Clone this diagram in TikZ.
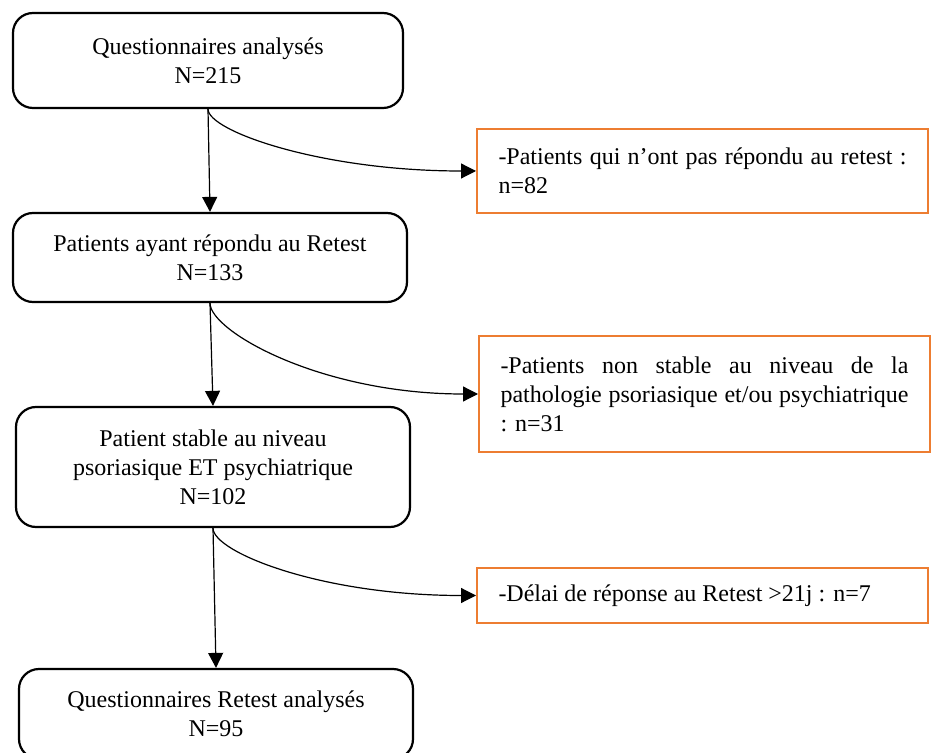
\documentclass[tikz,border=0pt]{standalone}
\usepackage{fontspec}
\setmainfont{Liberation Serif}
\usetikzlibrary{arrows.meta}
\definecolor{orangebord}{HTML}{ED7D31}

\begin{document}
\begin{tikzpicture}[x=0.5pt, y=-0.5pt,
    etape/.style={draw, line width=1.1pt, rounded corners=10pt, align=center,
      font=\fontsize{12}{14.5}\selectfont},
    exclu/.style={draw=orangebord, line width=1pt, align=justify, text width=204pt,
      inner xsep=10.75pt, font=\fontsize{12}{14.5}\selectfont},
    fleche/.style={line width=0.6pt, -{Triangle[length=7.5pt,width=7.5pt]}}]
			%%%%% START %%%%%
			\useasboundingbox (0,0) rectangle (931,753);
			\clip (0,0) rectangle (931,753);
			
			% main path
			\node[etape, minimum width=195pt, minimum height=47.5pt] (quest) at (208,60.5) {Questionnaires analysés\\N=215};
			\node[etape, minimum width=197pt, minimum height=44.5pt] (retest) at (210,257.5) {Patients ayant répondu au Retest\\N=133};
			\node[etape, minimum width=197pt, minimum height=60pt] (stable) at (213,467) {Patient stable au niveau\\psoriasique ET psychiatrique\\N=102};
			\node[etape, minimum width=197pt, minimum height=45pt] (final) at (216,714) {Questionnaires Retest analysés\\N=95};
			
			% exclusions
			\node[exclu, minimum height=42pt] (nonrep) at (702.5,171) {-Patients qui n’ont pas répondu au retest :\linebreak n=82};
			\node[exclu, minimum height=58pt] (instable) at (704.5,394) {-Patients non stable au niveau de la\linebreak pathologie psoriasique et/ou psychiatrique\linebreak : n=31};
			\node[exclu, minimum height=27.5pt] (delai) at (702.5,595.5) {-Délai de réponse au Retest >21j : n=7};
			
			\draw[fleche] (quest.south) -- (retest.north);
			\draw[fleche] (retest.south) -- (stable.north);
			\draw[fleche] (stable.south) -- (final.north);
			
			\draw[fleche] (quest.south) .. controls +(0,22) and +(-155,0) .. (nonrep.west);
			\draw[fleche] (retest.south) .. controls +(0,28) and +(-158,0) .. (instable.west);
			\draw[fleche] (stable.south) .. controls +(0,24) and +(-155,0) .. (delai.west);
			
			%%%%% END %%%%%
		\end{tikzpicture}
\end{document}
